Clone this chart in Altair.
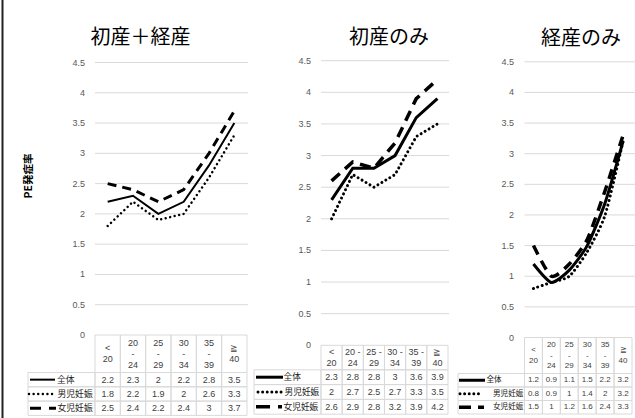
import altair as alt
import pandas as pd

# ---- data -------------------------------------------------------------
categories = ["<20", "20-24", "25-29", "30-34", "35-39", "≧40"]
series = ["全体", "男児妊娠", "女児妊娠"]
titles = ["初産＋経産", "初産のみ", "経産のみ"]
y_title = "PE発症率"

all_total = [2.2, 2.3, 2.0, 2.2, 2.8, 3.5]
all_boy = [1.8, 2.2, 1.9, 2.0, 2.6, 3.3]
all_girl = [2.5, 2.4, 2.2, 2.4, 3.0, 3.7]

prim_total = [2.3, 2.8, 2.8, 3.0, 3.6, 3.9]
prim_boy = [2.0, 2.7, 2.5, 2.7, 3.3, 3.5]
prim_girl = [2.6, 2.9, 2.8, 3.2, 3.9, 4.2]

multi_total = [1.2, 0.9, 1.1, 1.5, 2.2, 3.2]
multi_boy = [0.8, 0.9, 1.0, 1.4, 2.0, 3.2]
multi_girl = [1.5, 1.0, 1.2, 1.6, 2.4, 3.3]

tick_values = [0, 0.5, 1, 1.5, 2, 2.5, 3, 3.5, 4, 4.5]
tick_labels = ["0", "0.5", "1", "1.5", "2", "2.5", "3", "3.5", "4", "4.5"]

header_all = [["<", "20"], ["20", "-", "24"], ["25", "-", "29"], ["30", "-", "34"], ["35", "-", "39"], ["≧", "40"]]
header_prim = [["<", "20"], ["20 -", "24"], ["25 -", "29"], ["30 -", "34"], ["35 -", "39"], ["≧", "40"]]
header_multi = [["<", "20"], ["20", "-", "24"], ["25", "-", "29"], ["30", "-", "34"], ["35", "-", "39"], ["≧", "40"]]

# ---- layout / style ---------------------------------------------------
JP = "Noto Sans CJK JP"
NUM = "Liberation Sans"
GRID = "#d9d9d9"
TXT = "#404040"

panels = [
    dict(title=titles[0], values=[all_total, all_boy, all_girl], header=header_all,
         x0=95, x1=247, grid_x1=248, y_zero=335, y_top=62.5, label_right=85,
         title_x=140.5, title_y=38, interp="linear",
         tbl_top=335, hdr_h=37.5, row_h=14.3, lbl_x0=28, lh=11,
         num_size=9, lab_size=8.8,
         keys=[(30, 55), (29, 53), (30, 56)], text_x=[57, 57.5, 57.5],
         widths=[2, 2.5, 3], dash=[9, 6], key_dash=[11, 8]),
    dict(title=titles[1], values=[prim_total, prim_boy, prim_girl], header=header_prim,
         x0=321, x1=448, grid_x1=449, y_zero=345.3, y_top=60.7, label_right=311,
         title_x=389, title_y=38, interp="linear",
         tbl_top=345.3, hdr_h=24.5, row_h=14.8, lbl_x0=254, lh=11,
         num_size=9, lab_size=8.7,
         keys=[(256, 283), (258, 282), (256, 282)], text_x=[283.5, 284.5, 283.5],
         widths=[3, 3, 3.5], dash=[11, 7], key_dash=[14, 8]),
    dict(title=titles[2], values=[multi_total, multi_boy, multi_girl], header=header_multi,
         x0=524.5, x1=632, grid_x1=635, y_zero=337.5, y_top=61.8, label_right=514,
         title_x=581, title_y=39, interp="cardinal",
         tbl_top=337.5, hdr_h=36, row_h=13.5, lbl_x0=458, lh=10.5,
         num_size=8, lab_size=7.6,
         keys=[(459, 485), (460, 481), (459, 484)], text_x=[486.5, 493, 493],
         widths=[3, 3, 3.5], dash=[10, 7], key_dash=[12, 7]),
]

DOT = [0.01, 4.6]


def series_style(p, i):
    w = p["widths"][i]
    if i == 0:
        return dict(strokeWidth=w)
    if i == 1:
        return dict(strokeWidth=w, strokeDash=DOT, strokeCap="round")
    return dict(strokeWidth=w, strokeDash=p["dash"])


def plot_group(p):
    xs = alt.Scale(type="point", domain=categories, range=[p["x0"], p["x1"]], padding=0.5)
    ys = alt.Scale(domain=[0, 4.5], range=[p["y_zero"], p["y_top"]], nice=False, zero=False)

    ticks = pd.DataFrame({"val": tick_values, "label": tick_labels})
    grid = alt.Chart(ticks[ticks.val > 0]).mark_rule(stroke=GRID, strokeWidth=1).encode(
        y=alt.Y("val:Q", scale=ys, axis=None),
        x=alt.value(p["x0"]), x2=alt.value(p["grid_x1"]),
    )
    labels = alt.Chart(ticks).mark_text(
        align="right", baseline="middle", font=NUM, fontSize=9, fill="#595959"
    ).encode(
        y=alt.Y("val:Q", scale=ys, axis=None),
        x=alt.value(p["label_right"]),
        text="label:N",
    )
    layers = [grid, labels]
    for i, name in enumerate(series):
        df = pd.DataFrame({"cat": categories, "idx": range(len(categories)),
                           "value": p["values"][i]})
        line_opts = dict(color="black", interpolate=p["interp"], **series_style(p, i))
        if p["interp"] == "cardinal":
            line_opts["tension"] = 0.35
        line = alt.Chart(df).mark_line(**line_opts).encode(
            x=alt.X("cat:N", scale=xs, axis=None),
            y=alt.Y("value:Q", scale=ys, axis=None),
            order="idx:Q",
        )
        layers.append(line)
    title = alt.Chart(pd.DataFrame({"t": [p["title"]]})).mark_text(
        font=JP, fontSize=20, fill="black", align="center", baseline="middle"
    ).encode(x=alt.value(p["title_x"]), y=alt.value(p["title_y"]), text="t:N")
    layers.append(title)
    return alt.layer(*layers)


def table_group(p):
    H = p["hdr_h"] / p["row_h"]
    xs = alt.Scale(type="band", domain=categories, range=[p["x0"], p["x1"]],
                   paddingInner=0, paddingOuter=0)
    ys = alt.Scale(domain=[0, H + 3], range=[p["tbl_top"], p["tbl_top"] + p["hdr_h"] + 3 * p["row_h"]],
                   nice=False, zero=False)

    cells, texts = [], []
    for c_i, cat in enumerate(categories):
        cells.append(dict(cat=cat, top=0, bottom=H))
        lines = p["header"][c_i]
        n = len(lines)
        for j, ln in enumerate(lines):
            texts.append(dict(cat=cat, mid=H / 2 + (j - (n - 1) / 2) * p["lh"] / p["row_h"], text=ln))
        for s_i in range(3):
            cells.append(dict(cat=cat, top=H + s_i, bottom=H + s_i + 1))
            texts.append(dict(cat=cat, mid=H + s_i + 0.5, text=f"{p['values'][s_i][c_i]:g}"))
    cells = pd.DataFrame(cells)
    texts = pd.DataFrame(texts)

    cell_marks = alt.Chart(cells).mark_rect(fill="white", fillOpacity=0, stroke=GRID, strokeWidth=1).encode(
        x=alt.X("cat:N", scale=xs, axis=None),
        y=alt.Y("top:Q", scale=ys, axis=None), y2="bottom:Q",
    )
    text_marks = alt.Chart(texts).mark_text(
        font=NUM, fontSize=p["num_size"], fill=TXT, align="center", baseline="middle"
    ).encode(
        x=alt.X("cat:N", scale=xs, axis=None),
        y=alt.Y("mid:Q", scale=ys, axis=None),
        text="text:N",
    )

    rows = pd.DataFrame({"series": series, "top": [H, H + 1, H + 2],
                         "bottom": [H + 1, H + 2, H + 3], "mid": [H + 0.5, H + 1.5, H + 2.5]})
    label_cells = alt.Chart(rows).mark_rect(fill="white", fillOpacity=0, stroke=GRID, strokeWidth=1).encode(
        x=alt.value(p["lbl_x0"]), x2=alt.value(p["x0"]),
        y=alt.Y("top:Q", scale=ys, axis=None), y2="bottom:Q",
    )
    layers = [cell_marks, text_marks, label_cells]
    for i, name in enumerate(series):
        k0, k1 = p["keys"][i]
        style = series_style(p, i)
        if i == 2:
            style["strokeDash"] = p["key_dash"]
        key = alt.Chart(rows[rows.series == name]).mark_rule(color="black", **style).encode(
            x=alt.value(k0), x2=alt.value(k1),
            y=alt.Y("mid:Q", scale=ys, axis=None),
        )
        lab = alt.Chart(rows[rows.series == name]).mark_text(
            font=JP, fontSize=p["lab_size"], fill="#1a1a1a", align="left", baseline="middle"
        ).encode(
            x=alt.value(p["text_x"][i]),
            y=alt.Y("mid:Q", scale=ys, axis=None),
            text="series:N",
        )
        layers += [key, lab]
    return alt.layer(*layers)


groups = []
for p in panels:
    groups.append(plot_group(p))
    groups.append(table_group(p))

deco = pd.DataFrame({"t": [y_title]})
ytitle = alt.Chart(deco).mark_text(
    font=JP, fontSize=10.5, fontWeight="bold", angle=270, fill="black", align="center", baseline="middle"
).encode(x=alt.value(29), y=alt.value(176), text="t:N")
border = alt.Chart(deco).mark_rule(color="#222222", strokeWidth=2).encode(
    x=alt.value(2.5), y=alt.value(0), y2=alt.value(418)
)
groups += [ytitle, border]

chart = alt.layer(*groups).resolve_scale(x="independent", y="independent").properties(
    width=635, height=418, padding=0, autosize="none", background="white"
).configure_view(stroke=None)

chart.save("out.html", embed_options={"renderer": "svg", "actions": False})
